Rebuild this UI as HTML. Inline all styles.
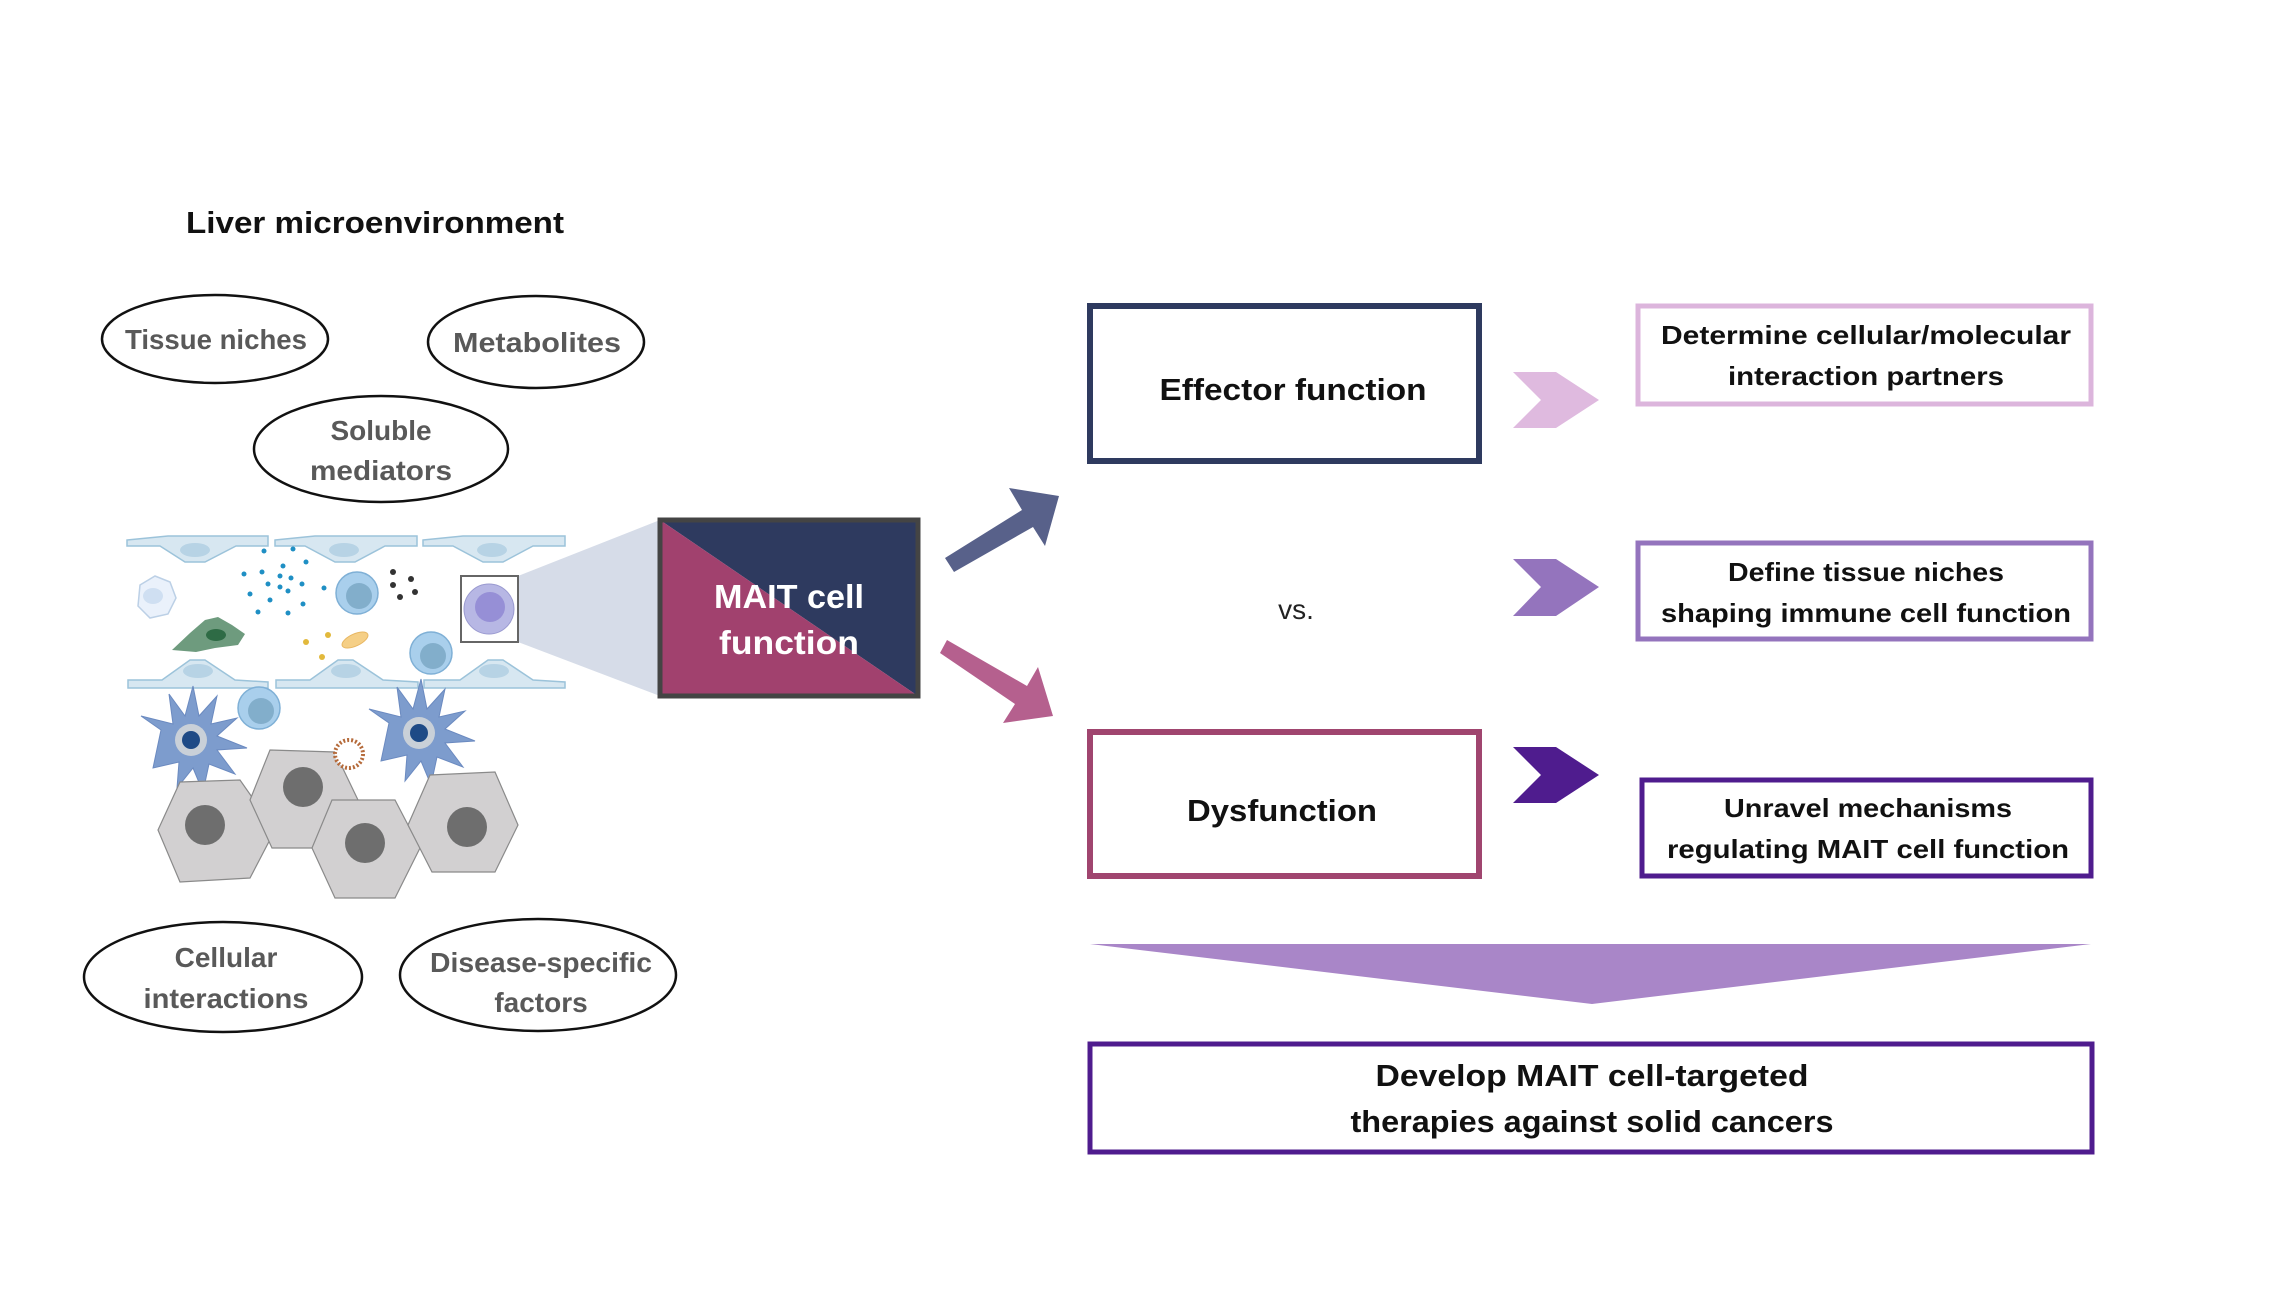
<!DOCTYPE html>
<html><head><meta charset="utf-8"><style>
html,body{margin:0;padding:0;background:#fff;}
svg{display:block;}
text{font-family:"Liberation Sans",Arial,sans-serif;font-weight:bold;}
</style></head><body>
<svg width="2292" height="1289" viewBox="0 0 2292 1289" xmlns="http://www.w3.org/2000/svg">
<rect width="2292" height="1289" fill="#fff"/>
<text x="375" y="233" font-size="31" text-anchor="middle" fill="#111" textLength="378" lengthAdjust="spacingAndGlyphs">Liver microenvironment</text>
<g fill="none" stroke="#111" stroke-width="2.5">
<ellipse cx="215" cy="339" rx="113" ry="44"/>
<ellipse cx="536" cy="342" rx="108" ry="46"/>
<ellipse cx="381" cy="449" rx="127" ry="53"/>
<ellipse cx="223" cy="977" rx="139" ry="55"/>
<ellipse cx="538" cy="975" rx="138" ry="56"/>
</g>
<g fill="#595959" font-size="28" text-anchor="middle">
<text x="216" y="349" textLength="182" lengthAdjust="spacingAndGlyphs">Tissue niches</text>
<text x="537" y="352" textLength="168" lengthAdjust="spacingAndGlyphs">Metabolites</text>
<text x="381" y="440">Soluble</text>
<text x="381" y="480" textLength="142" lengthAdjust="spacingAndGlyphs">mediators</text>
<text x="226" y="967">Cellular</text>
<text x="226" y="1008" textLength="165" lengthAdjust="spacingAndGlyphs">interactions</text>
<text x="541" y="972" textLength="222" lengthAdjust="spacingAndGlyphs">Disease-specific</text>
<text x="541" y="1012">factors</text>
</g>
<!-- trapezoid -->
<polygon points="518,576 660,520 660,696 518,642" fill="#d6dce8"/>
<!-- endothelial rows -->
<g fill="#d7e7f1" stroke="#9cc3da" stroke-width="1.5">
<path d="M127,540 L168,536 L268,536 L268,546 L236,546 L205,562 L185,562 L160,546 L127,546 Z"/>
<path d="M275,540 L315,536 L417,536 L417,546 L385,546 L355,562 L335,562 L305,546 L275,546 Z"/>
<path d="M423,540 L463,536 L565,536 L565,546 L533,546 L503,562 L483,562 L453,546 L423,546 Z"/>
<path d="M128,688 L128,680 L162,680 L190,660 L205,660 L235,680 L268,682 L268,688 Z"/>
<path d="M276,688 L276,680 L310,680 L338,660 L353,660 L383,680 L418,682 L418,688 Z"/>
<path d="M424,688 L424,680 L460,680 L488,660 L503,660 L533,680 L565,682 L565,688 Z"/>
</g>
<g fill="#b7d3e5">
<ellipse cx="195" cy="550" rx="15" ry="7"/><ellipse cx="344" cy="550" rx="15" ry="7"/><ellipse cx="492" cy="550" rx="15" ry="7"/>
<ellipse cx="198" cy="671" rx="15" ry="7"/><ellipse cx="346" cy="671" rx="15" ry="7"/><ellipse cx="494" cy="671" rx="15" ry="7"/>
</g>
<!-- white cell -->
<path d="M140,585 L155,576 L170,582 L176,598 L168,614 L150,618 L138,606 Z" fill="#eaf1fb" stroke="#bcd0e6" stroke-width="1.5"/>
<ellipse cx="153" cy="596" rx="10" ry="8" fill="#cfdff2"/>
<!-- green cell -->
<path d="M172,650 L190,633 L205,620 L218,617 L232,625 L245,634 L238,645 L215,648 L196,652 Z" fill="#6e9b7e"/>
<ellipse cx="216" cy="635" rx="10" ry="6" fill="#2e6b45"/>
<!-- teal dots -->
<g fill="#1f8fc4">
<circle cx="264" cy="551" r="2.5"/><circle cx="293" cy="549" r="2.5"/><circle cx="306" cy="562" r="2.5"/><circle cx="283" cy="566" r="2.5"/><circle cx="244" cy="574" r="2.5"/><circle cx="262" cy="572" r="2.5"/><circle cx="280" cy="576" r="2.5"/><circle cx="291" cy="578" r="2.5"/><circle cx="268" cy="584" r="2.5"/><circle cx="280" cy="587" r="2.5"/><circle cx="288" cy="591" r="2.5"/><circle cx="302" cy="584" r="2.5"/><circle cx="324" cy="588" r="2.5"/><circle cx="250" cy="594" r="2.5"/><circle cx="270" cy="600" r="2.5"/><circle cx="303" cy="604" r="2.5"/><circle cx="258" cy="612" r="2.5"/><circle cx="288" cy="613" r="2.5"/>
</g>
<g fill="#333"><circle cx="393" cy="572" r="3"/><circle cx="411" cy="579" r="3"/><circle cx="393" cy="585" r="3"/><circle cx="415" cy="592" r="3"/><circle cx="400" cy="597" r="3"/></g>
<g fill="#e2b93c"><circle cx="306" cy="642" r="3"/><circle cx="328" cy="635" r="3"/><circle cx="322" cy="657" r="3"/></g>
<ellipse cx="355" cy="640" rx="14" ry="6" transform="rotate(-25 355 640)" fill="#f5cf86" stroke="#e8b762"/>
<!-- blue cells -->
<g stroke="#7fb0d6" stroke-width="1.5">
<circle cx="357" cy="593" r="21" fill="#a9cfec"/><circle cx="431" cy="653" r="21" fill="#a9cfec"/><circle cx="259" cy="708" r="21" fill="#a9cfec"/>
</g>
<g fill="#82aecb"><circle cx="359" cy="596" r="13"/><circle cx="433" cy="656" r="13"/><circle cx="261" cy="711" r="13"/></g>
<!-- inset -->
<rect x="461" y="576" width="57" height="66" fill="#fff" stroke="#666" stroke-width="2"/>
<circle cx="489" cy="609" r="25" fill="#b7b7e4" stroke="#9a9ad0"/>
<circle cx="490" cy="607" r="15" fill="#968fd6"/>
<!-- dendritic -->
<g fill="#7d9ccd" stroke="#6b8ac0" stroke-width="1">
<path d="M191,740 m-30,-10 l-20,-14 l32,8 l-4,-30 l16,22 l8,-30 l6,30 l18,-20 l-6,28 l26,-6 l-20,18 l30,12 l-30,2 l18,24 l-26,-10 l-6,28 l-10,-24 l-16,20 l2,-26 l-26,6 z"/>
<path d="M419,733 m-30,-10 l-20,-14 l32,8 l-4,-30 l16,22 l8,-30 l6,30 l18,-20 l-6,28 l26,-6 l-20,18 l30,12 l-30,2 l18,24 l-26,-10 l-6,28 l-10,-24 l-16,20 l2,-26 l-26,6 z"/>
</g>
<circle cx="191" cy="740" r="16" fill="#c9d0d8"/><circle cx="191" cy="740" r="9" fill="#1e4a86"/>
<circle cx="419" cy="733" r="16" fill="#c9d0d8"/><circle cx="419" cy="733" r="9" fill="#1e4a86"/>
<!-- gray blobs -->
<g fill="#d2d0d1" stroke="#8a8a8a" stroke-width="1.2">
<polygon points="180,782 240,780 275,830 250,878 180,882 158,830"/>
<polygon points="270,750 335,752 358,800 332,848 272,848 250,800"/>
<polygon points="332,800 395,800 420,848 395,898 335,898 312,848"/>
<polygon points="430,775 495,772 518,825 495,872 432,872 408,825"/>
</g>
<g fill="#6e6e6e"><circle cx="205" cy="825" r="20"/><circle cx="303" cy="787" r="20"/><circle cx="365" cy="843" r="20"/><circle cx="467" cy="827" r="20"/></g>
<circle cx="349" cy="754" r="14" fill="#fff" stroke="#b56a3a" stroke-width="4" stroke-dasharray="2 2"/>
<!-- MAIT box -->
<polygon points="660,520 918,520 918,696" fill="#2e3a5f"/>
<polygon points="660,520 918,696 660,696" fill="#a1416e"/>
<rect x="660" y="520" width="258" height="176" fill="none" stroke="#444" stroke-width="5"/>
<text x="789" y="608" font-size="33" fill="#fff" text-anchor="middle" textLength="150" lengthAdjust="spacingAndGlyphs">MAIT cell</text>
<text x="789" y="654" font-size="33" fill="#fff" text-anchor="middle" textLength="140" lengthAdjust="spacingAndGlyphs">function</text>
<!-- arrows -->
<polygon points="945,558 1022,510 1009,488 1059,496 1045,546 1033,527 954,572" fill="#58618a"/>
<polygon points="947,640 1027,686 1038,667 1053,716 1003,723 1015,704 940,653" fill="#b5608e"/>
<!-- left boxes -->
<rect x="1090" y="306" width="389" height="155" fill="none" stroke="#2e3a5f" stroke-width="6"/>
<text x="1293" y="400" font-size="31" fill="#111" text-anchor="middle" textLength="267" lengthAdjust="spacingAndGlyphs">Effector function</text>
<text x="1296" y="619" font-size="28" font-weight="normal" fill="#222" text-anchor="middle" style="font-weight:normal">vs.</text>
<rect x="1090" y="732" width="389" height="144" fill="none" stroke="#a0456f" stroke-width="6"/>
<text x="1282" y="821" font-size="31" fill="#111" text-anchor="middle" textLength="190" lengthAdjust="spacingAndGlyphs">Dysfunction</text>
<!-- chevrons -->
<polygon points="1513,372 1556,372 1599,400 1556,428 1513,428 1541,400" fill="#dfbadf"/>
<polygon points="1513,559 1556,559 1599,587 1556,616 1513,616 1541,587" fill="#9474bd"/>
<polygon points="1513,747 1556,747 1599,775 1556,803 1513,803 1541,775" fill="#4f1c8e"/>
<!-- right boxes -->
<rect x="1638" y="306" width="453" height="98" fill="none" stroke="#dcb5dc" stroke-width="5"/>
<rect x="1638" y="543" width="453" height="96" fill="none" stroke="#9474bd" stroke-width="5"/>
<rect x="1642" y="780" width="449" height="96" fill="none" stroke="#4f1c8e" stroke-width="5"/>
<g font-size="26" fill="#111" text-anchor="middle">
<text x="1866" y="344" textLength="410" lengthAdjust="spacingAndGlyphs">Determine cellular/molecular</text>
<text x="1866" y="385" textLength="276" lengthAdjust="spacingAndGlyphs">interaction partners</text>
<text x="1866" y="581" textLength="276" lengthAdjust="spacingAndGlyphs">Define tissue niches</text>
<text x="1866" y="622" textLength="410" lengthAdjust="spacingAndGlyphs">shaping immune cell function</text>
<text x="1868" y="817" textLength="288" lengthAdjust="spacingAndGlyphs">Unravel mechanisms</text>
<text x="1868" y="858" textLength="402" lengthAdjust="spacingAndGlyphs">regulating MAIT cell function</text>
</g>
<!-- triangle -->
<polygon points="1090,944 2091,944 1592,1004" fill="#a986c8"/>
<!-- bottom box -->
<rect x="1090" y="1044" width="1002" height="108" fill="none" stroke="#4f1c8e" stroke-width="5"/>
<text x="1592" y="1086" font-size="31" fill="#111" text-anchor="middle" textLength="433" lengthAdjust="spacingAndGlyphs">Develop MAIT cell-targeted</text>
<text x="1592" y="1132" font-size="31" fill="#111" text-anchor="middle" textLength="483" lengthAdjust="spacingAndGlyphs">therapies against solid cancers</text>
</svg>
</body></html>
